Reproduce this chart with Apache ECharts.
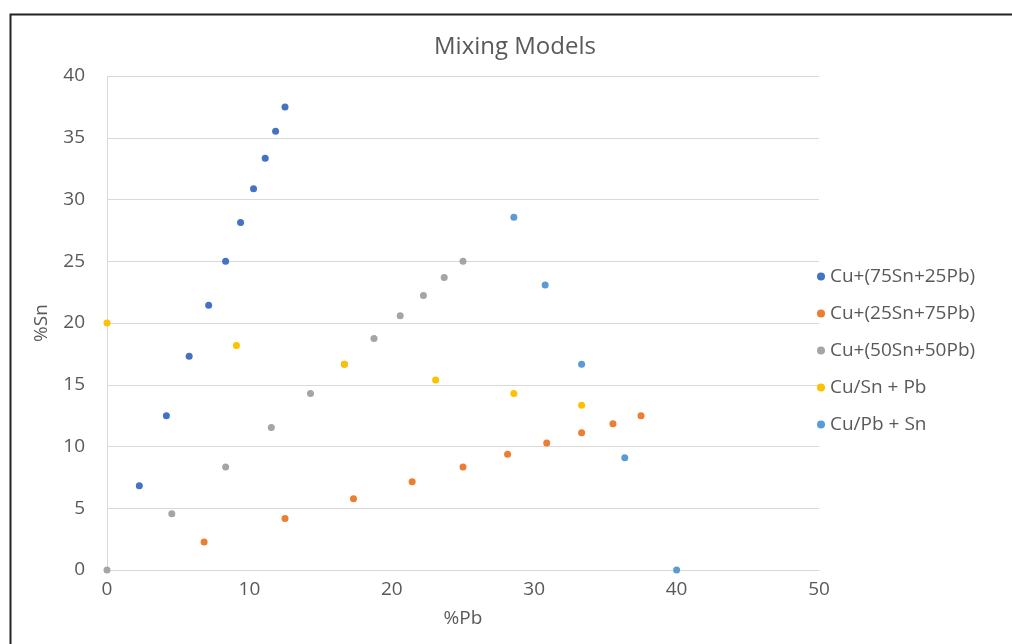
<!DOCTYPE html>
<html><head><meta charset="utf-8">
<script src="https://cdn.jsdelivr.net/npm/echarts@6/dist/echarts.min.js"></script>
<style>html,body{margin:0;padding:0;background:#fff}#c{width:1012px;height:644px}</style>
</head><body><div id="c"></div>
<script>
const seriesNames = ['Cu+(75Sn+25Pb)','Cu+(25Sn+75Pb)','Cu+(50Sn+50Pb)','Cu/Sn + Pb','Cu/Pb + Sn'];
const colors = ['#4472C4','#ED7D31','#A5A5A5','#FFC000','#5B9BD5'];
const s1Pb = [2.27,4.17,5.77,7.14,8.33,9.38,10.29,11.11,11.84,12.5];
const s1Sn = [6.82,12.5,17.31,21.43,25,28.13,30.88,33.33,35.53,37.5];
const s2Pb = [6.82,12.5,17.31,21.43,25,28.13,30.88,33.33,35.53,37.5];
const s2Sn = [2.27,4.17,5.77,7.14,8.33,9.38,10.29,11.11,11.84,12.5];
const s3Pb = [0,4.55,8.33,11.54,14.29,16.67,18.75,20.59,22.22,23.68,25];
const s3Sn = [0,4.55,8.33,11.54,14.29,16.67,18.75,20.59,22.22,23.68,25];
const s4Pb = [0,9.09,16.67,23.08,28.57,33.33];
const s4Sn = [20,18.18,16.67,15.38,14.29,13.33];
const s5Pb = [28.57,30.77,33.33,36.36,40];
const s5Sn = [28.57,23.08,16.67,9.09,0];
const xTicks = [0,10,20,30,40,50];
const yTicks = [0,5,10,15,20,25,30,35,40];

const pairs = [[s1Pb,s1Sn],[s2Pb,s2Sn],[s3Pb,s3Sn],[s4Pb,s4Sn],[s5Pb,s5Sn]];
const font = "'Open Sans', 'Noto Sans', sans-serif";
const txt = '#595959';
const chart = echarts.init(document.getElementById('c'), null, {renderer:'canvas'});
chart.setOption({
  animation:false,
  color: colors,
  title:{text:'Mixing Models', left:510, textAlign:'center', top:30,
    textStyle:{fontFamily:font, fontSize:24, fontWeight:'normal', color:txt}},
  graphic:[{type:'rect', left:8, top:12, shape:{width:1010, height:640}, style:{fill:'none', stroke:'#222', lineWidth:2}}],
  legend:{orient:'vertical', left:812, top:262, itemGap:18, itemWidth:8, itemHeight:8, itemStyle:{opacity:1}, icon:'circle',
    textStyle:{fontFamily:font, fontSize:19, color:txt}, data:seriesNames},
  grid:{left:107, top:76, width:712, height:494},
  xAxis:{type:'value', min:0, max:50, interval:10, name:'%Pb', nameLocation:'middle', nameGap:39,
    nameTextStyle:{fontFamily:font, fontSize:19, color:txt},
    axisLine:{show:true, lineStyle:{color:'#d9d9d9'}}, axisTick:{show:false}, splitLine:{show:false},
    axisLabel:{fontFamily:font, fontSize:19, color:txt, margin:10}},
  yAxis:{type:'value', min:0, max:40, interval:5, name:'%Sn', nameLocation:'middle', nameGap:56,
    nameTextStyle:{fontFamily:font, fontSize:19, color:txt},
    axisLine:{show:true, lineStyle:{color:'#d9d9d9'}}, axisTick:{show:false},
    splitLine:{show:true, lineStyle:{color:'#d9d9d9'}},
    axisLabel:{fontFamily:font, fontSize:19, color:txt, margin:22}},
  series: pairs.map((p,i)=>({
    name: seriesNames[i], type:'scatter', symbolSize:7,
    itemStyle:{color:colors[i], opacity:1},
    data: p[0].map((x,j)=>[x,p[1][j]])
  }))
});
</script></body></html>
